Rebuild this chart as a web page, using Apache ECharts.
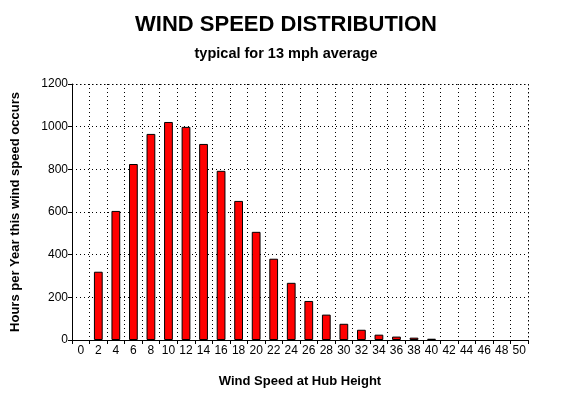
<!DOCTYPE html>
<html>
<head>
<meta charset="utf-8">
<script src="https://cdn.jsdelivr.net/npm/echarts@6/dist/echarts.min.js"></script>
<style>
html, body { margin: 0; padding: 0; background: #fff; }
#chart { width: 572px; height: 397px; }
</style>
</head>
<body>
<div id="chart"></div>
<script>
"use strict";
// wind speed bins, mph
var speeds = ['0','2','4','6','8','10','12','14','16','18','20','22','24','26','28','30','32','34','36','38','40','42','44','46','48','50'];
// hours per year
var hours = [0, 320, 605, 825, 966, 1022, 999, 919, 793, 652, 507, 381, 268, 183, 119, 76, 48, 25, 16, 11, 6, 0, 0, 0, 0, 0];
var yTicks = [0, 200, 400, 600, 800, 1000, 1200];

var font = 'Arial, "Liberation Sans", sans-serif';
// empty bins draw nothing (no outline)
var barData = hours.map(function (v) { return v > 0 ? v : '-'; });

var myChart = echarts.init(document.getElementById('chart'));
var option = {
	animation: false,
	backgroundColor: '#fff',
	title: [{
		text: 'WIND SPEED DISTRIBUTION',
		left: 'center',
		top: 9,
		textStyle: { fontFamily: font, fontSize: 22, fontWeight: 'bold', color: '#000' }
	}, {
		text: 'typical for 13 mph average',
		left: 'center',
		top: 41,
		textStyle: { fontFamily: font, fontSize: 14.5, fontWeight: 'bold', color: '#000' }
	}],
	grid: { left: 72, top: 84, width: 456, height: 256, show: false },
	xAxis: {
		type: 'category',
		data: speeds,
		name: 'Wind Speed at Hub Height',
		nameLocation: 'middle',
		nameGap: 35,
		nameTextStyle: { fontFamily: font, fontSize: 13, fontWeight: 'bold', color: '#000' },
		axisLine: { lineStyle: { color: '#000', width: 1 } },
		axisTick: { show: true, length: 4, lineStyle: { color: '#000' } },
		axisLabel: { interval: 0, fontFamily: font, fontSize: 12, color: '#000', margin: 5 },
		splitLine: { show: true, interval: 0, lineStyle: { color: '#000', type: [1, 3] } }
	},
	yAxis: {
		type: 'value',
		min: 0,
		max: 1200,
		interval: 200,
		name: 'Hours per Year this wind speed occurs',
		nameLocation: 'middle',
		nameGap: 50,
		nameTextStyle: { fontFamily: font, fontSize: 13, fontWeight: 'bold', color: '#000' },
		axisLine: { show: true, lineStyle: { color: '#000', width: 1 } },
		axisTick: { show: true, length: 4, lineStyle: { color: '#000' } },
		axisLabel: { fontFamily: font, fontSize: 12, color: '#000', margin: 4,
			formatter: function (v) { return yTicks.indexOf(v) >= 0 ? String(v) : ''; } },
		splitLine: { show: true, lineStyle: { color: '#000', type: [1, 3] } }
	},
	series: [{
		type: 'bar',
		data: barData,
		barWidth: '50%',
		itemStyle: { color: '#ff0000', borderColor: '#000', borderWidth: 1 }
	}]
};
myChart.setOption(option);
// right and top dotted border of the plot
myChart.setOption({
	graphic: [{
		type: 'polyline',
		shape: { points: [[72.5, 84.5], [528.5, 84.5], [528.5, 340]] },
		style: { stroke: '#000', lineWidth: 1, lineDash: [1, 3], fill: null },
		silent: true
	}]
});
</script>
</body>
</html>
